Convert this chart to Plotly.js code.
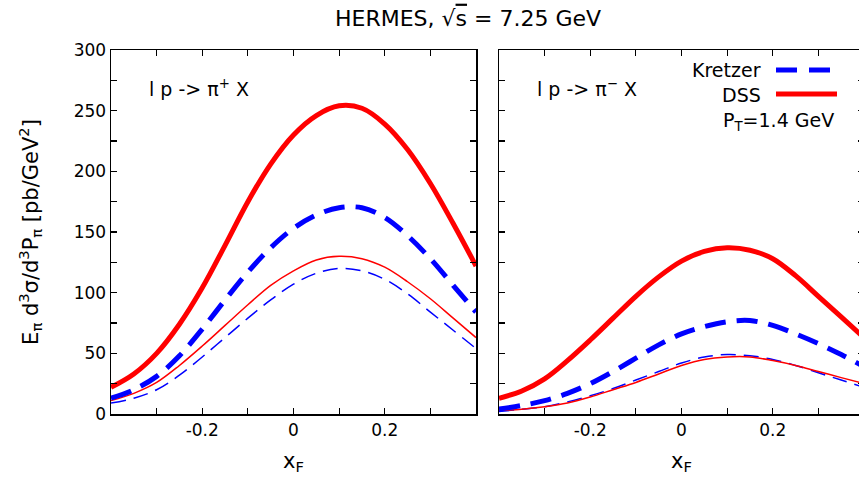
<!DOCTYPE html>
<html>
<head>
<meta charset="utf-8">
<script src="https://cdn.plot.ly/plotly-3.0.1.min.js"></script>
<style>
html, body { margin: 0; padding: 0; overflow: hidden; background: #fff; }
#chart { width: 870px; height: 481px; }
</style>
</head>
<body>
<div id="chart"></div>
<script>
// ---- data ----
const xF = [-0.4, -0.35, -0.3, -0.25, -0.2, -0.15, -0.1, -0.05, 0, 0.05, 0.1, 0.15, 0.2, 0.25, 0.3, 0.35, 0.4];

// pi+ panel
const piPlus_DSS_thick     = [22, 33, 50, 74, 104, 139, 175, 206, 230, 246, 254, 252, 239, 218, 190, 157, 122];
const piPlus_Kretzer_thick = [13, 20, 31, 48, 70, 94, 117, 137, 153, 164, 170, 170, 162, 147, 128, 106, 84];
const piPlus_DSS_thin      = [11, 17, 26, 40, 56, 73, 90, 106, 118, 127, 130, 128, 121, 109, 95, 79, 63];
const piPlus_Kretzer_thin  = [9, 13, 20, 32, 47, 63, 79, 94, 107, 116, 120, 118, 111, 99, 84, 69, 54];

// pi- panel
const piMinus_DSS_thick     = [13, 19, 29, 44, 61, 79, 97, 113, 126, 134, 137, 135, 128, 114, 97, 80, 63];
const piMinus_Kretzer_thick = [4, 7, 11, 17, 25, 35, 46, 57, 66, 72, 76, 77, 73, 66, 58, 49, 39];
const piMinus_DSS_thin      = [3, 4, 6, 9, 14, 20, 26, 33, 40, 45, 47, 47, 44, 40, 35, 30, 25];
const piMinus_Kretzer_thin  = [2, 4, 6, 10, 15, 21, 28, 35, 42, 47, 49, 48, 45, 40, 34, 28, 22];

const xMajorTicks = [-0.2, 0, 0.2];
const xMajorLabels = ['-0.2', '0', '0.2'];
const xMinorTicks = [-0.3, -0.1, 0.1, 0.3];
const yMajorTicks = [0, 50, 100, 150, 200, 250, 300];
const yMinorTicks = [25, 75, 125, 175, 225, 275];

// ---- styling ----
const FONT = 'DejaVu Sans, Liberation Sans, Arial, sans-serif';
const RED = '#ff0000', BLUE = '#0000ff';
const W = 870, H = 481;
const M = { l: 111, r: 6, t: 50, b: 67 };
const plotW = W - M.l - M.r, plotH = H - M.t - M.b;
const px2x = p => (p - M.l) / plotW;
const py2y = p => (H - M.b - p) / plotH;

const thickRed   = { color: RED,  width: 5, shape: 'spline' };
const thickBlue  = { color: BLUE, width: 5, dash: '21px,11px', shape: 'spline' };
const thinRed    = { color: RED,  width: 1.5, shape: 'spline' };
const thinBlue   = { color: BLUE, width: 1.5, dash: '15px,8px', shape: 'spline' };

function tr(y, line, xa, ya) {
  return { x: xF, y: y, type: 'scatter', mode: 'lines', line: line, xaxis: xa, yaxis: ya, showlegend: false, hoverinfo: 'skip' };
}

const data = [
  tr(piPlus_Kretzer_thin, thinBlue, 'x', 'y'),
  tr(piPlus_DSS_thin, thinRed, 'x', 'y'),
  tr(piPlus_Kretzer_thick, thickBlue, 'x', 'y'),
  tr(piPlus_DSS_thick, thickRed, 'x', 'y'),
  tr(piMinus_Kretzer_thin, thinBlue, 'x2', 'y2'),
  tr(piMinus_DSS_thin, thinRed, 'x2', 'y2'),
  tr(piMinus_Kretzer_thick, thickBlue, 'x2', 'y2'),
  tr(piMinus_DSS_thick, thickRed, 'x2', 'y2')
];

const axCommon = {
  showgrid: false, zeroline: false, showline: true, linecolor: '#000', linewidth: 1.5,
  mirror: 'ticks', ticks: 'inside', ticklen: 6, tickwidth: 1.2, tickcolor: '#000',
  tickfont: { family: FONT, size: 17, color: '#000' }, fixedrange: true
};
const xMinor = { tickmode: 'array', tickvals: xMinorTicks, ticks: 'inside', ticklen: 6, tickwidth: 1.2, tickcolor: '#000', showgrid: false };
const yMinor = { tickmode: 'array', tickvals: yMinorTicks, ticks: 'inside', ticklen: 6, tickwidth: 1.2, tickcolor: '#000', showgrid: false };

const xTitle = { text: 'x<sub>F</sub>', font: { family: FONT, size: 21, color: '#000' }, standoff: 14 };

const layout = {
  width: W, height: H, margin: M,
  paper_bgcolor: '#fff', plot_bgcolor: '#fff',
  font: { family: FONT, color: '#000' },
  title: {
    text: 'HERMES, √<span style="text-decoration:overline">s</span> = 7.25 GeV',
    font: { family: FONT, size: 22, color: '#000' },
    x: 468 / W, xref: 'container', xanchor: 'center',
    y: 1 - 18 / H, yref: 'container', yanchor: 'middle'
  },
  xaxis: Object.assign({}, axCommon, {
    domain: [0, 365 / plotW], range: [-0.4, 0.4], anchor: 'y',
    tickmode: 'array', tickvals: xMajorTicks, ticktext: xMajorLabels, minor: xMinor, title: xTitle
  }),
  yaxis: Object.assign({}, axCommon, {
    domain: [0, 1], range: [0, 300], anchor: 'x',
    tickmode: 'array', tickvals: yMajorTicks, minor: yMinor,
    title: { text: 'E<sub>π</sub> d<sup>3</sup>σ/d<sup>3</sup>P<sub>π</sub> [pb/GeV<sup>2</sup>]',
             font: { family: FONT, size: 21, color: '#000' }, standoff: 29 }
  }),
  xaxis2: Object.assign({}, axCommon, {
    domain: [388 / plotW, 1], range: [-0.4, 0.4], anchor: 'y2',
    tickmode: 'array', tickvals: xMajorTicks, ticktext: xMajorLabels, minor: xMinor, title: xTitle
  }),
  yaxis2: Object.assign({}, axCommon, {
    domain: [0, 1], range: [0, 300], anchor: 'x2',
    tickmode: 'array', tickvals: yMajorTicks, minor: yMinor, showticklabels: false
  }),
  annotations: [
    { text: 'l p -> π<sup>+</sup> X', xref: 'paper', yref: 'paper', x: px2x(147), y: py2y(88),
      xanchor: 'left', yanchor: 'middle', showarrow: false, font: { family: FONT, size: 19, color: '#000' } },
    { text: 'l p -> π<sup>−</sup> X', xref: 'paper', yref: 'paper', x: px2x(535), y: py2y(88),
      xanchor: 'left', yanchor: 'middle', showarrow: false, font: { family: FONT, size: 19, color: '#000' } },
    { text: 'Kretzer', xref: 'paper', yref: 'paper', x: px2x(763), y: py2y(70),
      xanchor: 'right', yanchor: 'middle', showarrow: false, font: { family: FONT, size: 19, color: '#000' } },
    { text: 'DSS', xref: 'paper', yref: 'paper', x: px2x(763), y: py2y(95),
      xanchor: 'right', yanchor: 'middle', showarrow: false, font: { family: FONT, size: 19, color: '#000' } },
    { text: 'P<sub>T</sub>=1.4 GeV', xref: 'paper', yref: 'paper', x: px2x(836), y: py2y(122),
      xanchor: 'right', yanchor: 'middle', showarrow: false, font: { family: FONT, size: 19, color: '#000' } }
  ],
  shapes: [
    { type: 'line', xref: 'paper', yref: 'paper', x0: px2x(776), x1: px2x(831), y0: py2y(70), y1: py2y(70),
      line: { color: BLUE, width: 5, dash: '21px,12px' } },
    { type: 'line', xref: 'paper', yref: 'paper', x0: px2x(776), x1: px2x(837), y0: py2y(94), y1: py2y(94),
      line: { color: RED, width: 5 } }
  ]
};

Plotly.newPlot('chart', data, layout, { staticPlot: true, displayModeBar: false });
</script>
</body>
</html>
